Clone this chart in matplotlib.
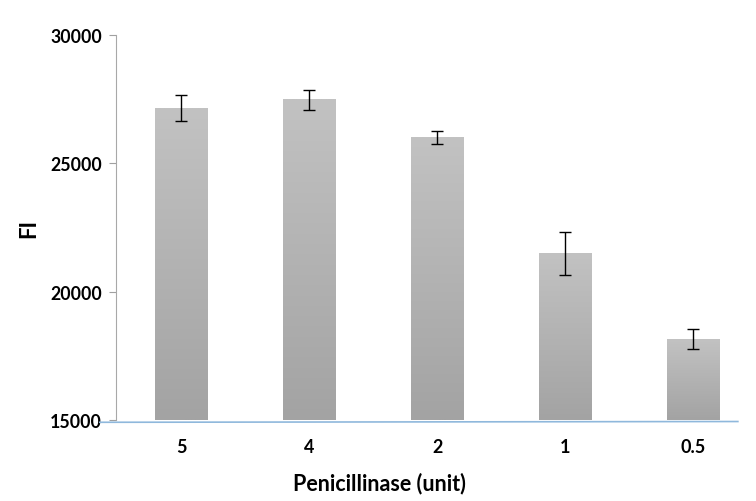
import numpy as np
import matplotlib
matplotlib.use("Agg")
import matplotlib.pyplot as plt
from matplotlib.colors import LinearSegmentedColormap

categories = ["5", "4", "2", "1", "0.5"]
values = [27150, 27480, 26000, 21500, 18150]
errors = [500, 380, 250, 830, 400]
yticks = [15000, 20000, 25000, 30000]

plt.rcParams['font.family'] = ['Lato', 'DejaVu Sans']

fig = plt.figure(figsize=(7.56, 5.02), dpi=100)
ax = fig.add_axes([0.1534, 0.1614, 0.8226, 0.7666])

ymin, ymax = 15000, 30000
ax.set_ylim(ymin, ymax)
ax.set_xlim(-0.51, 4.35)

x = np.arange(len(categories))
w = 0.41
cmap = LinearSegmentedColormap.from_list("g", ["#a3a3a3", "#c2c2c2"])
grad = np.linspace(0, 1, 256).reshape(-1, 1)
for xi, v in zip(x, values):
    ax.imshow(grad, extent=(xi - w / 2, xi + w / 2, ymin, v), origin='lower',
              aspect='auto', cmap=cmap, zorder=2)
ax.errorbar(x, values, yerr=errors, fmt='none', ecolor='black',
            elinewidth=1, capsize=4, capthick=1, zorder=3)

ax.set_xticks(x)
ax.set_xticklabels(categories, fontsize=13, fontweight='bold')
ax.set_yticks(yticks)
ax.set_yticklabels([str(t) for t in yticks], fontsize=12.8, fontweight='bold')
ax.tick_params(axis='x', length=0, pad=13)
ax.tick_params(axis='y', length=5, color='#a0a0a0', pad=5)

for s in ['top', 'right', 'bottom']:
    ax.spines[s].set_visible(False)
ax.spines['left'].set_color('#a8a8a8')
ax.plot([-0.026, 1.0], [-0.006, -0.004], transform=ax.transAxes, color='#8fb8dc',
        lw=1.2, clip_on=False, zorder=4)

ax.set_ylabel("FI", fontsize=16, fontweight='bold', labelpad=8)
ax.set_xlabel("Penicillinase (unit)", fontsize=15.5, fontweight='bold', labelpad=10)
ax.xaxis.set_label_coords(0.424, -0.133)

fig.savefig("out.png", dpi=100)
